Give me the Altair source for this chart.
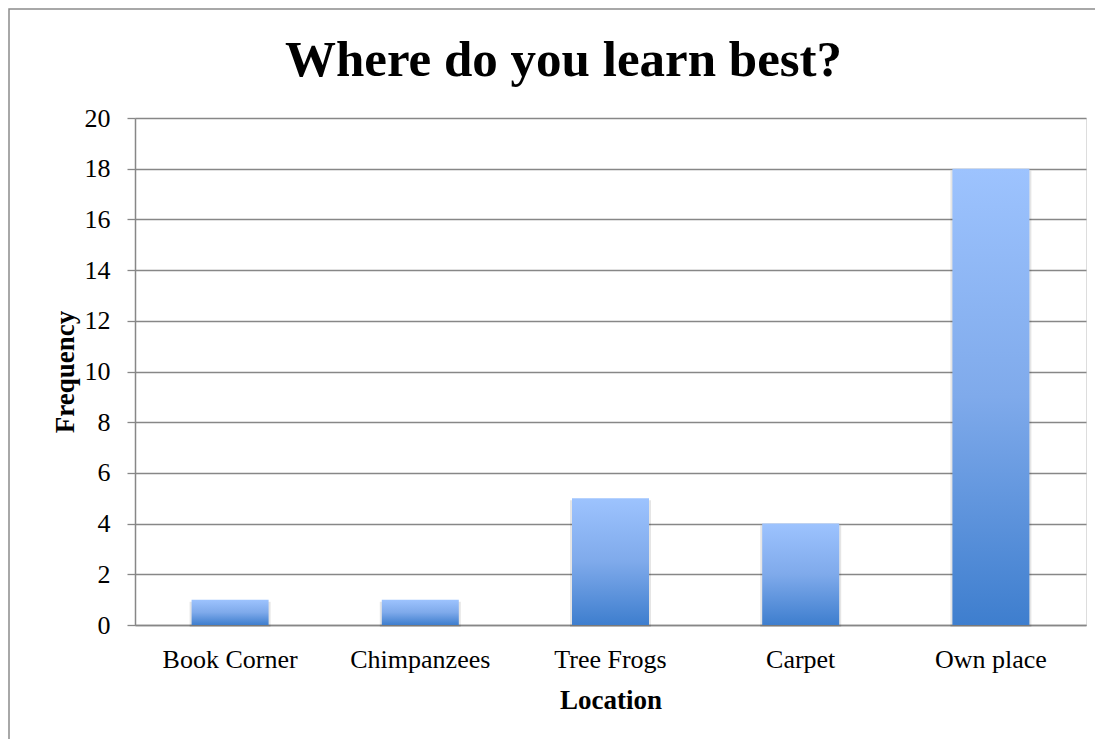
import altair as alt
import pandas as pd

locations = ["Book Corner", "Chimpanzees", "Tree Frogs", "Carpet", "Own place"]
frequency = [1, 1, 5, 4, 18]
y_ticks = [0, 2, 4, 6, 8, 10, 12, 14, 16, 18, 20]

df = pd.DataFrame({"Location": locations, "Frequency": frequency})

FONT = "Liberation Serif"
GREY = "#878787"

x_enc = alt.X(
    "Location:N",
    sort=locations,
    scale=alt.Scale(paddingInner=0.595, paddingOuter=0.2975),
    axis=alt.Axis(
        title="Location",
        labelAngle=0,
        ticks=False,
        domainColor=GREY,
        domainWidth=1.5,
        labelFont=FONT,
        labelFontSize=26,
        labelColor="#000",
        labelBaseline="alphabetic",
        labelPadding=42,
        titleFont=FONT,
        titleFontSize=27,
        titleFontWeight="bold",
        titleColor="#000",
        titleBaseline="alphabetic",
        titleY=83,
    ),
)
y_enc = alt.Y(
    "Frequency:Q",
    scale=alt.Scale(domain=[0, 20], nice=False),
    axis=alt.Axis(
        title="Frequency",
        values=y_ticks,
        grid=True,
        gridColor=GREY,
        gridWidth=1.3,
        domainColor=GREY,
        domainWidth=1.5,
        tickColor=GREY,
        tickWidth=1.3,
        tickSize=8,
        labelFont=FONT,
        labelFontSize=26,
        labelColor="#000",
        labelPadding=17,
        titleFont=FONT,
        titleFontSize=27,
        titleFontWeight="bold",
        titleColor="#000",
        titleAngle=-90,
        titleBaseline="alphabetic",
        titleX=-62,
    ),
)

shadow = alt.Chart(df).mark_bar(
    size=81, color="#000000", opacity=0.10, yOffset=2
).encode(x=x_enc, y=y_enc)

bars = alt.Chart(df).mark_bar(
    size=77,
    color=alt.Gradient(
        gradient="linear",
        stops=[
            alt.GradientStop(color="#9DC3FE", offset=0),
            alt.GradientStop(color="#7FAAEB", offset=0.5),
            alt.GradientStop(color="#3E7ECE", offset=1),
        ],
        x1=0, x2=0, y1=0, y2=1,
    ),
).encode(x=x_enc, y=y_enc)

border_df = pd.DataFrame({"b": [1]})
border = alt.Chart(border_df).mark_rect(
    fill=None, stroke="#8c8c8c", strokeWidth=1.5, clip=False
).encode(
    x=alt.value(-126), x2=alt.value(975),
    y=alt.value(-109), y2=alt.value(640),
)

chart = alt.layer(border, shadow, bars).properties(
    width=951,
    height=507,
    title=alt.TitleParams(
        text="Where do you learn best?",
        font=FONT,
        fontSize=51,
        fontWeight="bold",
        color="#000",
        anchor="middle",
        frame="group",
        baseline="alphabetic",
        offset=-67,
        dx=-47,
        dy=52,
    ),
    autosize=alt.AutoSizeParams(type="none"),
    padding={"left": 127, "top": 110, "right": 9, "bottom": 114},
).configure_view(stroke=None).configure(background="white")

chart.save("out.html", embed_options={"renderer": "svg", "actions": False})
